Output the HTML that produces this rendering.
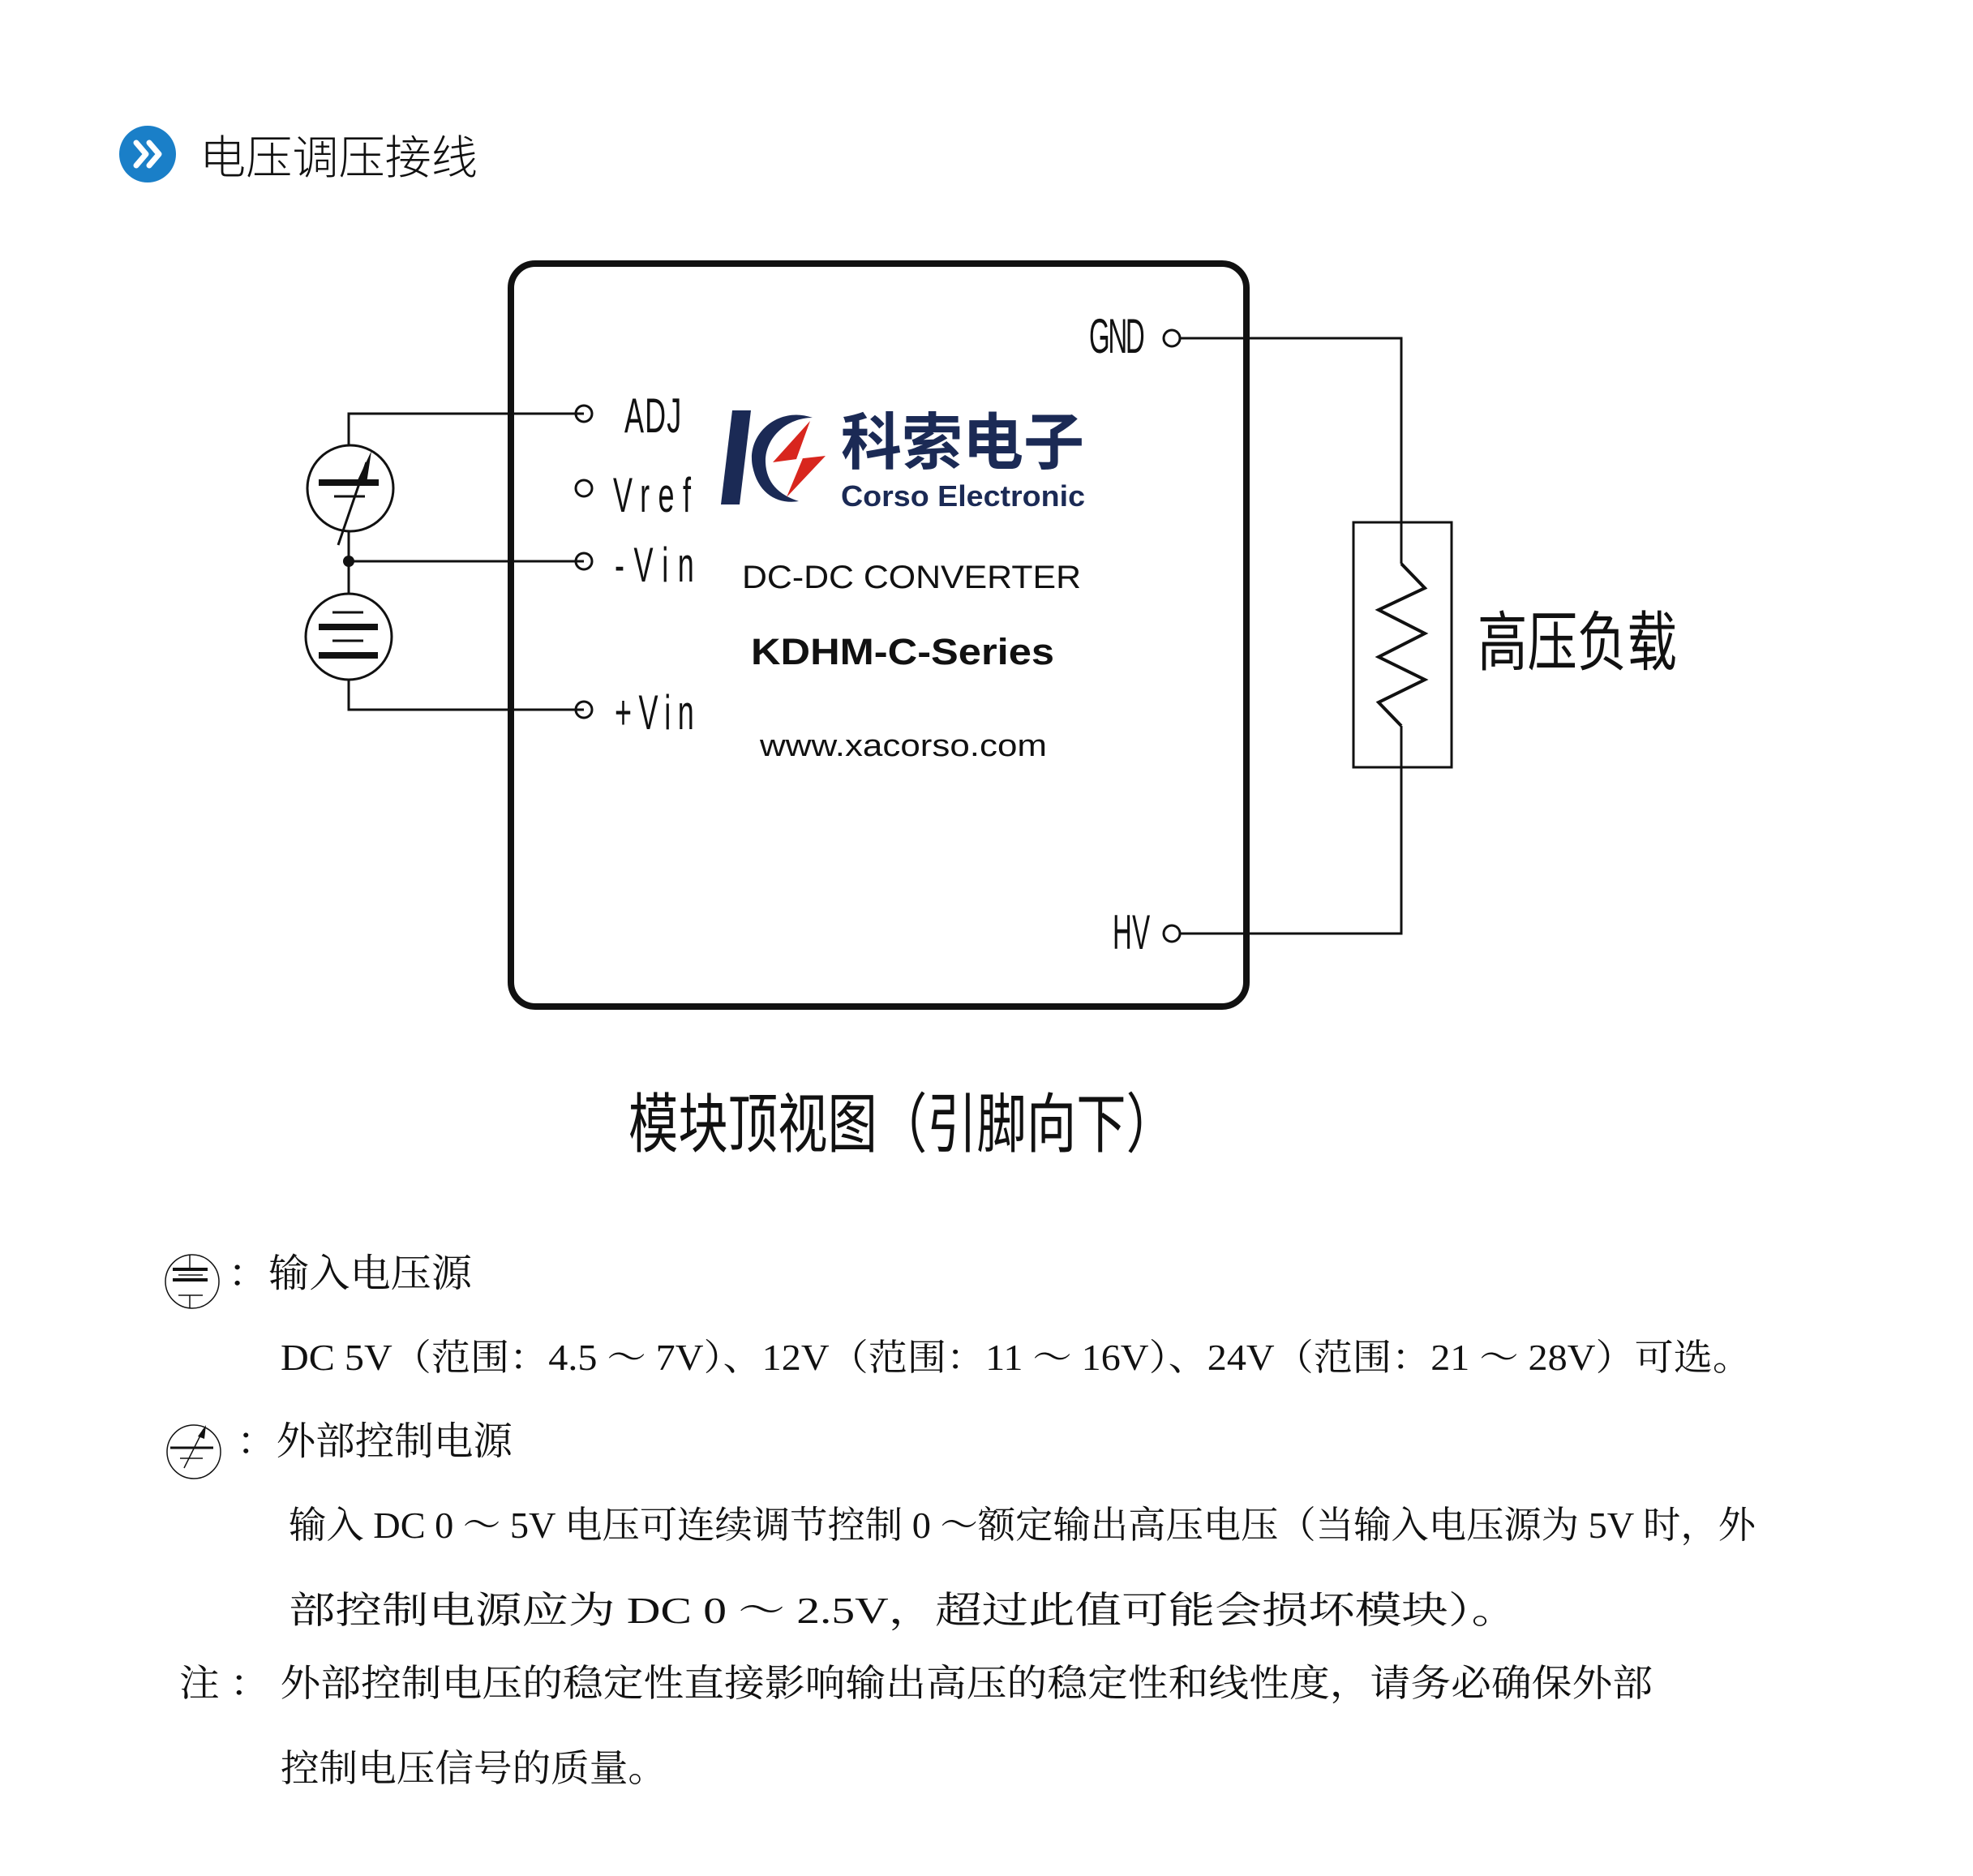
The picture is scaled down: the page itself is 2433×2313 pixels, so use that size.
<!DOCTYPE html>
<html><head><meta charset="utf-8"><style>
html,body{margin:0;padding:0;background:#fff;}
svg{display:block;}
.cn{font-family:"Liberation Serif","Noto Serif CJK SC",serif;fill:#111;}
.pin{font-family:"Liberation Sans","Noto Sans CJK SC",sans-serif;fill:#111;}
</style></head><body>
<svg width="2433" height="2313" viewBox="0 0 2433 2313" xmlns="http://www.w3.org/2000/svg">
<circle cx="182" cy="190" r="35" fill="#1a7fc8"/>
<path d="M168 176 L180 190 L168 204 M184 176 L196 190 L184 204" stroke="#fff" stroke-width="7" fill="none" stroke-linecap="round" stroke-linejoin="round"/>
<text x="246" y="214" font-size="57" style="font-family:'Liberation Sans','Noto Sans CJK SC',sans-serif;font-weight:300" fill="#111" textLength="343" lengthAdjust="spacingAndGlyphs">电压调压接线</text>

<rect x="630" y="325" width="907" height="916" rx="30" ry="30" fill="none" stroke="#111" stroke-width="8"/>

<g stroke="#111" stroke-width="3" fill="none">
<polyline points="720,510 430,510 430,549"/>
<line x1="430" y1="655" x2="430" y2="732"/>
<line x1="430" y1="692" x2="720" y2="692"/>
<polyline points="430,838 430,875 720,875"/>
<circle cx="720" cy="510" r="10"/>
<circle cx="720" cy="602" r="10"/>
<circle cx="720" cy="692" r="10"/>
<circle cx="720" cy="875" r="10"/>
<circle cx="432" cy="602" r="53"/>
<circle cx="430" cy="785" r="53"/>
<line x1="417" y1="672" x2="452" y2="570"/>
<line x1="412" y1="612" x2="450" y2="612"/>
<line x1="410" y1="755" x2="448" y2="755"/>
<line x1="410" y1="790" x2="448" y2="790"/>
<circle cx="1445" cy="417" r="10"/>
<polyline points="1455,417 1728,417 1728,695"/>
<circle cx="1445" cy="1151" r="10"/>
<polyline points="1455,1151 1728,1151 1728,895"/>
<rect x="1669" y="644" width="121" height="302"/>
<polyline points="1728,695 1757,725 1700,752 1757,781 1700,810 1757,838 1700,866 1728,895" stroke-width="4"/>
</g>
<g stroke="#111" stroke-width="8">
<line x1="393" y1="595" x2="467" y2="595"/>
<line x1="393" y1="773" x2="466" y2="773"/>
<line x1="393" y1="808" x2="466" y2="808"/>
</g>
<polygon points="458,556 440,594 452,596" fill="#111"/>
<circle cx="430" cy="692" r="7" fill="#111"/>

<g class="pin" font-size="60">
<text transform="translate(770,533) scale(0.6,1)" textLength="117" lengthAdjust="spacing">ADJ</text>
<text transform="translate(756,631) scale(0.6,1)" textLength="160" lengthAdjust="spacing">Vref</text>
<text transform="translate(758,717) scale(0.6,1)" textLength="163" lengthAdjust="spacing">-Vin</text>
<text transform="translate(758,899) scale(0.6,1)" textLength="163" lengthAdjust="spacing">+Vin</text>
<text transform="translate(1343,435) scale(0.55,1)" textLength="125" lengthAdjust="spacing">GND</text>
<text transform="translate(1372,1170) scale(0.55,1)" textLength="84" lengthAdjust="spacing">HV</text>
</g>

<polygon points="903,506 926,506 912,622 889,622" fill="#1b2a55"/>
<path d="M1002 515 C960 500 920 535 928 575 C935 610 960 622 985 618 C960 610 945 595 944 570 C943 540 970 515 1002 515 Z" fill="#1b2a55"/>
<polygon points="999,519 953,570 990,565 970,613 1018,562 982,566" fill="#d8261e"/>
<text x="1037" y="572" font-size="76" font-weight="bold" fill="#1b2a55" style="font-family:'Noto Sans CJK SC',sans-serif" textLength="300" lengthAdjust="spacingAndGlyphs">科索电子</text>
<text x="1037" y="624" font-size="36" font-weight="bold" fill="#1b2a55" style="font-family:'Liberation Sans',sans-serif" textLength="301" lengthAdjust="spacingAndGlyphs">Corso Electronic</text>

<g style="font-family:'Liberation Sans',sans-serif" fill="#111">
<text x="915" y="725" font-size="40" textLength="418" lengthAdjust="spacingAndGlyphs">DC-DC CONVERTER</text>
<text x="926" y="819" font-size="45" font-weight="bold" textLength="374" lengthAdjust="spacingAndGlyphs">KDHM-C-Series</text>
<text x="937" y="932" font-size="38" textLength="354" lengthAdjust="spacingAndGlyphs">www.xacorso.com</text>
</g>

<text x="1822" y="820" font-size="80" style="font-family:'Noto Sans CJK SC',sans-serif" fill="#111" textLength="246" lengthAdjust="spacingAndGlyphs">高压负载</text>
<text x="775" y="1414" font-size="80" style="font-family:'Noto Sans CJK SC',sans-serif" fill="#111" textLength="675" lengthAdjust="spacingAndGlyphs">模块顶视图（引脚向下）</text>

<g stroke="#111" fill="none">
<circle cx="237" cy="1580" r="33" stroke-width="1.5"/>
<line x1="234" y1="1547" x2="234" y2="1565" stroke-width="1.5"/>
<line x1="234" y1="1597" x2="234" y2="1613" stroke-width="1.5"/>
<line x1="213" y1="1565" x2="256" y2="1565" stroke-width="4"/>
<line x1="220" y1="1572" x2="250" y2="1572" stroke-width="1.5"/>
<line x1="213" y1="1578" x2="256" y2="1578" stroke-width="4"/>
<line x1="220" y1="1597" x2="250" y2="1597" stroke-width="1.5"/>
<circle cx="239" cy="1790" r="33" stroke-width="1.5"/>
<line x1="210" y1="1785" x2="263" y2="1785" stroke-width="3"/>
<line x1="222" y1="1798" x2="250" y2="1798" stroke-width="1.5"/>
<line x1="227" y1="1810" x2="251" y2="1762" stroke-width="1.5"/>
</g>
<polygon points="254,1757 244,1771 252,1774" fill="#111"/>

<g class="cn" font-size="48">
<text x="281" y="1586" textLength="301" lengthAdjust="spacingAndGlyphs">：输入电压源</text>
<text x="346" y="1689" font-size="45" textLength="1814" lengthAdjust="spacingAndGlyphs">DC 5V（范围：4.5 ～ 7V）、12V（范围：11 ～ 16V）、24V（范围：21 ～ 28V）可选。</text>
<text x="292" y="1793" textLength="340" lengthAdjust="spacingAndGlyphs">：外部控制电源</text>
<text x="356" y="1896" font-size="46" textLength="1809" lengthAdjust="spacingAndGlyphs">输入 DC 0 ～ 5V 电压可连续调节控制 0 ～额定输出高压电压（当输入电压源为 5V 时，外</text>
<text x="356" y="2001" font-size="46" textLength="1516" lengthAdjust="spacingAndGlyphs">部控制电源应为 DC 0 ～ 2.5V，超过此值可能会损坏模块）。</text>
<text x="221" y="2091" font-size="46" textLength="1817" lengthAdjust="spacingAndGlyphs">注 ： 外部控制电压的稳定性直接影响输出高压的稳定性和线性度，请务必确保外部</text>
<text x="346" y="2196" font-size="46" textLength="476" lengthAdjust="spacingAndGlyphs">控制电压信号的质量。</text>
</g>
</svg>
</body></html>
